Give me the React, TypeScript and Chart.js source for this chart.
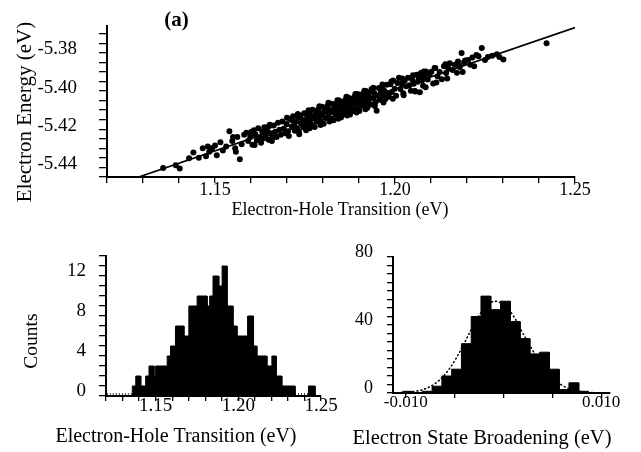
import React, { useEffect, useRef } from 'react';
import { Chart, registerables } from 'chart.js';

Chart.register(...registerables);

const SERIF = "'Liberation Serif', 'Times New Roman', Times, serif";

// ---------- Panel (a): electron energy vs electron-hole transition ----------
const scatterPoints: [number, number][] = [
  [1.1356, -5.4403], [1.1391, -5.4388], [1.1402, -5.4405], [1.1428, -5.4352], [1.1440, -5.4322], [1.1455, -5.4349],
  [1.1466, -5.4300], [1.1475, -5.4341], [1.1480, -5.4290], [1.1484, -5.4318], [1.1492, -5.4299], [1.1500, -5.4285], [1.1505, -5.4336],
  [1.1515, -5.4268], [1.1522, -5.4311], [1.1531, -5.4290], [1.1540, -5.4210], [1.1548, -5.4262], [1.1550, -5.4240], [1.1556, -5.4300], [1.1558, -5.4318],
  [1.1562, -5.4241], [1.1569, -5.4357], [1.1574, -5.4278], [1.1581, -5.4229],
  [1.1587, -5.4218], [1.1592, -5.4262], [1.1598, -5.4240], [1.1600, -5.4215], [1.1604, -5.4281], [1.1608, -5.4205], [1.1610, -5.4282],
  [1.1612, -5.4226], [1.1616, -5.4258], [1.1620, -5.4195], [1.1624, -5.4240], [1.1628, -5.4271], [1.1631, -5.4212], [1.1634, -5.4249],
  [1.1637, -5.4190], [1.1641, -5.4236], [1.1645, -5.4208], [1.1649, -5.4255], [1.1650, -5.4185], [1.1652, -5.4177], [1.1655, -5.4222], [1.1658, -5.4262], [1.1659, -5.4243],
  [1.1663, -5.4181], [1.1667, -5.4214], [1.1671, -5.4240], [1.1675, -5.4166], [1.1679, -5.4203], [1.1683, -5.4229],
  [1.1687, -5.4159], [1.1691, -5.4197], [1.1695, -5.4221], [1.1699, -5.4173], [1.1700, -5.4140], [1.1703, -5.4210], [1.1705, -5.4235], [1.1708, -5.4145],
  [1.1712, -5.4151], [1.1714, -5.4190], [1.1717, -5.4132], [1.1720, -5.4176], [1.1722, -5.4208], [1.1725, -5.4160], [1.1728, -5.4195], [1.1730, -5.4120], [1.1731, -5.4139], [1.1733, -5.4212], [1.1734, -5.4226],
  [1.1737, -5.4128], [1.1739, -5.4171], [1.1742, -5.4149], [1.1745, -5.4190], [1.1748, -5.4116], [1.1751, -5.4163], [1.1753, -5.4205], [1.1756, -5.4138], [1.1759, -5.4178],
  [1.1760, -5.4100], [1.1762, -5.4112], [1.1763, -5.4195], [1.1764, -5.4151], [1.1766, -5.4129], [1.1769, -5.4176], [1.1771, -5.4098], [1.1774, -5.4142], [1.1777, -5.4188], [1.1779, -5.4120], [1.1782, -5.4159], [1.1785, -5.4103],
  [1.1787, -5.4096], [1.1789, -5.4137], [1.1790, -5.4080], [1.1792, -5.4115], [1.1793, -5.4178], [1.1794, -5.4160], [1.1797, -5.4082], [1.1799, -5.4128], [1.1802, -5.4171], [1.1805, -5.4104], [1.1807, -5.4141], [1.1810, -5.4089],
  [1.1812, -5.4078], [1.1815, -5.4119], [1.1815, -5.4062], [1.1818, -5.4098], [1.1818, -5.4160], [1.1821, -5.4142], [1.1824, -5.4066], [1.1827, -5.4110], [1.1829, -5.4153], [1.1832, -5.4087], [1.1835, -5.4125],
  [1.1837, -5.4065], [1.1839, -5.4103], [1.1840, -5.4048], [1.1841, -5.4081], [1.1842, -5.4145], [1.1843, -5.4126], [1.1845, -5.4050], [1.1847, -5.4094], [1.1850, -5.4139], [1.1852, -5.4072], [1.1854, -5.4110], [1.1856, -5.4058], [1.1858, -5.4088], [1.1860, -5.4121],
  [1.1862, -5.4047], [1.1864, -5.4085], [1.1865, -5.4030], [1.1866, -5.4063], [1.1867, -5.4128], [1.1868, -5.4110], [1.1870, -5.4034], [1.1873, -5.4078], [1.1875, -5.4123], [1.1877, -5.4055], [1.1879, -5.4095], [1.1881, -5.4040], [1.1883, -5.4070], [1.1885, -5.4104],
  [1.1887, -5.4031], [1.1889, -5.4069], [1.1890, -5.4015], [1.1892, -5.4047], [1.1893, -5.4112], [1.1894, -5.4094], [1.1896, -5.4016], [1.1898, -5.4060], [1.1901, -5.4104], [1.1903, -5.4038], [1.1905, -5.4078], [1.1907, -5.4022], [1.1909, -5.4052],
  [1.1911, -5.4014], [1.1913, -5.4052], [1.1915, -5.4030], [1.1915, -5.3998], [1.1917, -5.4076], [1.1918, -5.4095], [1.1919, -5.4000], [1.1921, -5.4044], [1.1923, -5.4088], [1.1925, -5.4021], [1.1927, -5.4061], [1.1929, -5.4006], [1.1931, -5.4036], [1.1933, -5.4070], [1.1935, -5.3990],
  [1.1937, -5.3999], [1.1940, -5.4036], [1.1940, -5.3983], [1.1943, -5.4012], [1.1944, -5.4078], [1.1946, -5.4058], [1.1949, -5.4103], [1.1952, -5.4025], [1.1955, -5.3984], [1.1958, -5.4045], [1.1961, -5.4005],
  [1.1964, -5.3980], [1.1965, -5.3966], [1.1967, -5.4022], [1.1968, -5.4060], [1.1970, -5.3998], [1.1973, -5.4043], [1.1977, -5.3967], [1.1980, -5.4010], [1.1983, -5.4030],
  [1.1987, -5.3964], [1.1990, -5.3950], [1.1991, -5.4005], [1.1994, -5.4040], [1.1995, -5.3945], [1.1999, -5.3988], [1.2003, -5.4025], [1.2007, -5.3958],
  [1.2011, -5.3930], [1.2015, -5.3990], [1.2019, -5.3962], [1.2020, -5.3935], [1.2023, -5.4012], [1.2024, -5.4022], [1.2027, -5.3945], [1.2031, -5.3975],
  [1.2036, -5.3931], [1.2040, -5.3970], [1.2044, -5.3998], [1.2048, -5.3940], [1.2050, -5.3918], [1.2052, -5.3962], [1.2055, -5.4000], [1.2056, -5.4003],
  [1.2060, -5.3915], [1.2063, -5.3952], [1.2066, -5.3930], [1.2069, -5.4006], [1.2072, -5.3905], [1.2075, -5.3945], [1.2078, -5.3972], [1.2080, -5.3898], [1.2081, -5.3922], [1.2085, -5.3980],
  [1.2086, -5.3898], [1.2091, -5.3940], [1.2096, -5.3912], [1.2101, -5.3899], [1.2106, -5.3960], [1.2110, -5.3880],
  [1.2112, -5.3880], [1.2115, -5.3955], [1.2118, -5.3922], [1.2124, -5.3900], [1.2130, -5.3938],
  [1.2136, -5.3870], [1.2140, -5.3860], [1.2142, -5.3905], [1.2145, -5.3935], [1.2148, -5.3882], [1.2152, -5.3854],
  [1.2160, -5.3890], [1.2166, -5.3862], [1.2172, -5.3904], [1.2175, -5.3845], [1.2178, -5.3868],
  [1.2180, -5.3874], [1.2185, -5.3801], [1.2188, -5.3900], [1.2192, -5.3850], [1.2195, -5.3840],
  [1.2203, -5.3838], [1.2209, -5.3862], [1.2215, -5.3825], [1.2220, -5.3870], [1.2226, -5.3812],
  [1.2232, -5.3818], [1.2241, -5.3775], [1.2250, -5.3838], [1.2258, -5.3822], [1.2270, -5.3815],
  [1.2283, -5.3808], [1.2290, -5.3822], [1.2301, -5.3835], [1.2421, -5.3750],
];
const fitLineX = [1.1288, 1.25];
const fitLineY = [-5.445, -5.3668];
const topXTicks = [1.12, 1.13, 1.14, 1.15, 1.16, 1.17, 1.18, 1.19, 1.2, 1.21, 1.22, 1.23, 1.24, 1.25];
const topXLabels = ['', '', '', '1.15', '', '', '', '', '1.20', '', '', '', '', '1.25'];
const topYTicks = [-5.445, -5.44, -5.435, -5.43, -5.425, -5.42, -5.415, -5.41, -5.405, -5.4, -5.395, -5.39, -5.385, -5.38, -5.375, -5.37];
const topYLabels = ['', '-5.44', '', '', '', '-5.42', '', '', '', '-5.40', '', '', '', '-5.38', '', ''];

// ---------- Lower left: histogram of electron-hole transitions ----------
const holeBinEdges = [
  1.1359, 1.138, 1.141, 1.144, 1.146, 1.149, 1.15, 1.157, 1.159, 1.162, 1.1671, 1.1701, 1.1751, 1.1811, 1.1827, 1.1847,
  1.1882, 1.1902, 1.1932, 1.1968, 1.1992, 1.2022, 1.2056, 1.2092, 1.2112, 1.2143, 1.2173, 1.2203, 1.2229, 1.2263, 1.2343, 1.2424, 1.2464,
];
const holeCounts = [1, 2, 1, 2, 3, 2, 3, 4, 5, 7, 6, 9, 10, 9, 10, 12, 11, 13, 9, 7, 6, 6, 8, 5, 4, 4, 3, 4, 2, 1, 0, 1];
const holeEmptyRunStarts = [1.1205, 1.2343];
const holeEmptyRunEnds = [1.1359, 1.2424];
const holeXTicks = [1.12, 1.13, 1.14, 1.15, 1.16, 1.17, 1.18, 1.19, 1.2, 1.21, 1.22, 1.23, 1.24, 1.25];
const holeXLabels = ['', '', '', '1.15', '', '', '', '', '1.20', '', '', '', '', '1.25'];
const holeYTicks = [0, 1, 2, 3, 4, 5, 6, 7, 8, 9, 10, 11, 12, 13, 14];
const holeYLabels = ['0', '', '', '', '4', '', '', '', '8', '', '', '', '12', '', ''];

// ---------- Lower right: histogram of electron state broadening ----------
const broadBinEdges = [
  -0.0103, -0.0093, -0.0083, -0.0073, -0.0063, -0.0053, -0.0043, -0.0033, -0.0023, -0.0013,
  -0.0003, 0.0007, 0.0017, 0.0027, 0.0037, 0.0047, 0.0057, 0.0067, 0.0077, 0.0087,
];
const broadCounts = [1, 0, 1, 4, 10, 14, 29, 45, 57, 49, 54, 42, 32, 23, 24, 14, 2, 6, 1];
const fitCurveX = [-0.0113, -0.01, -0.009, -0.008, -0.007, -0.006, -0.005, -0.004, -0.003, -0.002, -0.001, 0, 0.001, 0.002, 0.003, 0.004, 0.005, 0.006, 0.007, 0.008, 0.009, 0.0105];
const fitCurveY = [0.1, 0.4, 1.0, 2.5, 5.5, 10.8, 18.9, 29.4, 40.5, 49.6, 53.9, 52.0, 45.5, 35.0, 25.0, 15.5, 9.0, 4.5, 2.0, 0.8, 0.3, 0.0];
const broadXTicks = [-0.01, -0.005, 0, 0.005, 0.01];
const broadXLabels = ['-0.010', '', '', '', '0.010'];
const broadYTicks = [0, 5, 10, 15, 20, 25, 30, 35, 40, 45, 50, 55, 60, 65, 70, 75, 80];
const broadYLabels = ['0', '', '', '', '', '', '', '', '40', '', '', '', '', '', '', '', '80'];

function histOutline(edges: number[], counts: number[]) {
  const pts: { x: number; y: number }[] = [{ x: edges[0], y: 0 }];
  counts.forEach((c, i) => {
    pts.push({ x: edges[i], y: c }, { x: edges[i + 1], y: c });
  });
  pts.push({ x: edges[edges.length - 1], y: 0 });
  return pts;
}

function axis(o: {
  min: number; max: number; ticks: number[]; labels: string[]; tickLength: number;
  padding: number; size: number; shift?: number; fit: (s: any) => void;
}) {
  return {
    type: 'linear',
    min: o.min,
    max: o.max,
    border: { display: true, color: '#000', width: 2 },
    grid: { display: true, drawOnChartArea: false, drawTicks: true, tickLength: o.tickLength, color: '#000', lineWidth: 1.3 },
    afterBuildTicks: (s: any) => { s.ticks = o.ticks.map((v) => ({ value: v })); },
    afterFit: o.fit,
    ticks: {
      autoSkip: false,
      maxRotation: 0,
      minRotation: 0,
      padding: o.padding,
      color: '#000',
      font: { family: SERIF, size: o.size, lineHeight: o.shift ? `${o.shift * 2}px` : 1 },
      callback: (_v: any, i: number) => {
        const l = o.labels[i] ?? '';
        return o.shift && l ? [l, ''] : l;
      },
    },
  };
}

const baseOpts = {
  animation: false,
  responsive: false,
  events: [],
  plugins: { legend: { display: false }, tooltip: { enabled: false }, title: { display: false } },
};

const textStyle = (x: number, y: number, size: number, rotate = false, bold = false): React.CSSProperties => ({
  position: 'absolute',
  left: x,
  top: y,
  transform: `translate(-50%, -50%)${rotate ? ' rotate(-90deg)' : ''}`,
  fontFamily: SERIF,
  fontSize: size,
  fontWeight: bold ? 'bold' : 'normal',
  lineHeight: 1,
  whiteSpace: 'nowrap',
  color: '#000',
});

export default function App() {
  const topRef = useRef<HTMLCanvasElement>(null);
  const leftRef = useRef<HTMLCanvasElement>(null);
  const rightRef = useRef<HTMLCanvasElement>(null);

  useEffect(() => {
    const charts: Chart[] = [];

    charts.push(new Chart(topRef.current!, {
      type: 'scatter',
      data: {
        datasets: [
          {
            data: fitLineX.map((x, i) => ({ x, y: fitLineY[i] })),
            showLine: true, borderColor: '#000', borderWidth: 1.7, pointRadius: 0, fill: false,
          },
          {
            data: scatterPoints.map(([x, y]) => ({ x, y })),
            pointRadius: 3, pointBackgroundColor: '#000', pointBorderWidth: 0, showLine: false,
          },
        ],
      },
      options: {
        ...baseOpts,
        layout: { padding: { left: 0, right: 66, top: 13, bottom: 0 } },
        scales: {
          x: axis({ min: 1.12, max: 1.25, ticks: topXTicks, labels: topXLabels, tickLength: 6, padding: -2, size: 18, fit: (s) => { s.height = 53; } }),
          y: axis({ min: -5.445, max: -5.3657, ticks: topYTicks, labels: topYLabels, tickLength: 8, padding: 22, size: 19, shift: 3.5, fit: (s) => { s.width = 107; } }),
        },
      } as any,
    }));

    const emptyRuns = holeEmptyRunStarts.map((s, i) => ({
      data: [{ x: s, y: 0.2 }, { x: holeEmptyRunEnds[i], y: 0.2 }],
      fill: false, borderColor: '#000', borderWidth: 1.3, borderDash: [1, 2], pointRadius: 0,
    }));

    charts.push(new Chart(leftRef.current!, {
      type: 'line',
      data: {
        datasets: [
          {
            data: histOutline(holeBinEdges, holeCounts),
            fill: 'origin', backgroundColor: '#000', borderColor: '#000', borderWidth: 1, pointRadius: 0, tension: 0,
          },
          ...emptyRuns,
        ],
      },
      options: {
        ...baseOpts,
        layout: { padding: { left: 0, right: 39, top: 26, bottom: 0 } },
        scales: {
          x: axis({ min: 1.12, max: 1.25, ticks: holeXTicks, labels: holeXLabels, tickLength: 5, padding: -4, size: 19, fit: (s) => { s.height = 56; } }),
          y: axis({ min: 0, max: 14, ticks: holeYTicks, labels: holeYLabels, tickLength: 7, padding: 13, size: 19, shift: 5, fit: (s) => { s.width = 106; } }),
        },
      } as any,
    }));

    charts.push(new Chart(rightRef.current!, {
      type: 'line',
      data: {
        datasets: [
          {
            data: fitCurveX.map((x, i) => ({ x, y: fitCurveY[i] })),
            fill: false, borderColor: '#000', borderWidth: 1.5, borderDash: [1, 3], borderCapStyle: 'round',
            pointRadius: 0, tension: 0.35,
          },
          {
            data: histOutline(broadBinEdges, broadCounts),
            fill: 'origin', backgroundColor: '#000', borderColor: '#000', borderWidth: 1, pointRadius: 0, tension: 0,
          },
        ],
      },
      options: {
        ...baseOpts,
        layout: { padding: { left: 0, right: 31, top: 27, bottom: 0 } },
        scales: {
          x: axis({ min: -0.0113, max: 0.0109, ticks: broadXTicks, labels: broadXLabels, tickLength: 5, padding: -4, size: 17, fit: (s) => { s.height = 59; } }),
          y: axis({ min: 0, max: 80, ticks: broadYTicks, labels: broadYLabels, tickLength: 6, padding: 14, size: 18, shift: 4.5, fit: (s) => { s.width = 63; } }),
        },
      } as any,
    }));

    return () => { charts.forEach((c) => c.destroy()); };
  }, []);

  return (
    <div style={{ position: 'absolute', left: 0, top: 0, width: 641, height: 452, background: '#fff', overflow: 'hidden' }}>
      <canvas ref={topRef} width={641} height={230} style={{ position: 'absolute', left: 0, top: 0 }} />
      <canvas ref={leftRef} width={360} height={222} style={{ position: 'absolute', left: 0, top: 230 }} />
      <canvas ref={rightRef} width={311} height={222} style={{ position: 'absolute', left: 330, top: 230 }} />
      <span style={textStyle(176.5, 19, 21, false, true)}>(a)</span>
      <span style={textStyle(24, 112, 21, true)}>Electron Energy (eV)</span>
      <span style={textStyle(340, 209, 18)}>Electron-Hole Transition (eV)</span>
      <span style={textStyle(31, 341, 19.5, true)}>Counts</span>
      <span style={textStyle(176, 435, 20)}>Electron-Hole Transition (eV)</span>
      <span style={textStyle(482, 437, 20.5)}>Electron State Broadening (eV)</span>
    </div>
  );
}
